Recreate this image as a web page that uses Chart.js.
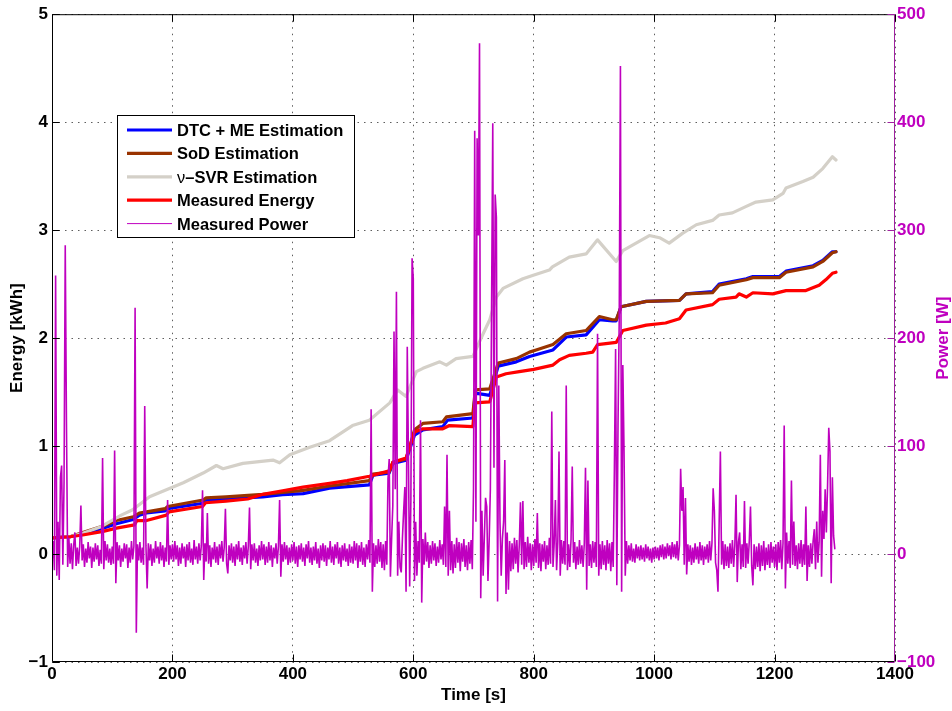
<!DOCTYPE html>
<html lang="en">
<head>
<meta charset="UTF-8">
<title>Energy Estimation vs. Measurement</title>
<script src="https://cdn.jsdelivr.net/npm/chart.js"></script>
<style>
    body {
        margin: 0;
        background-color: #ffffff;
    }
    #energyChart {
        display: block;
    }
</style>
</head>
<body>
<canvas id="energyChart" width="952" height="711"></canvas>
<script>
// energy curves as [time s, energy kWh]
const dtcMeEnergy = [
    [0,0.15],[30,0.16],[51,0.19],[85,0.24],[107,0.28],[135,0.32],[145,0.36],[157,0.38],[188,0.40],[192,0.42],
    [251,0.47],[256,0.50],[289,0.51],[350,0.53],[383,0.55],[417,0.56],[461,0.61],[527,0.64],[533,0.73],[560,0.75],
    [566,0.84],[588,0.87],[594,0.97],[602,1.10],[616,1.15],[649,1.18],[657,1.24],[699,1.26],[703,1.49],[727,1.47],
    [741,1.74],[771,1.78],[793,1.83],[832,1.89],[854,2.01],[887,2.03],[909,2.17],[931,2.16],[937,2.16],[945,2.29],
    [987,2.34],[1042,2.35],[1053,2.41],[1097,2.43],[1108,2.50],[1153,2.55],[1164,2.57],[1208,2.57],[1219,2.62],
    [1264,2.67],[1280,2.72],[1296,2.80],[1302,2.80]
];
const sodEnergy = [
    [0,0.15],[30,0.16],[51,0.20],[85,0.26],[107,0.31],[135,0.345],[145,0.38],[157,0.39],[188,0.42],[192,0.44],
    [251,0.50],[256,0.52],[289,0.53],[350,0.553],[383,0.57],[417,0.59],[461,0.63],[527,0.68],[533,0.74],[560,0.76],
    [566,0.85],[588,0.88],[594,0.99],[602,1.15],[616,1.21],[649,1.225],[655,1.27],[699,1.30],[703,1.52],[727,1.53],
    [741,1.77],[771,1.81],[793,1.87],[804,1.89],[832,1.94],[854,2.04],[887,2.07],[909,2.20],[931,2.17],[937,2.17],
    [945,2.29],[987,2.34],[1042,2.35],[1053,2.41],[1097,2.42],[1108,2.49],[1153,2.54],[1164,2.56],[1208,2.56],
    [1219,2.61],[1264,2.66],[1280,2.71],[1296,2.79],[1302,2.80]
];
const svrEnergy = [
    [0,0.15],[30,0.16],[50,0.19],[80,0.25],[115,0.36],[134,0.41],[162,0.53],[218,0.66],[251,0.75],[273,0.82],
    [284,0.79],[317,0.84],[367,0.87],[378,0.845],[395,0.92],[428,0.99],[461,1.05],[499,1.19],[527,1.24],[561,1.40],
    [574,1.52],[588,1.46],[605,1.69],[616,1.72],[644,1.78],[655,1.75],[671,1.81],[699,1.83],[716,2.04],[727,2.17],
    [738,2.38],[749,2.46],[782,2.55],[798,2.58],[826,2.63],[831,2.66],[859,2.75],[887,2.78],[906,2.91],[937,2.71],
    [948,2.81],[992,2.95],[1009,2.93],[1025,2.88],[1047,2.97],[1070,3.05],[1097,3.09],[1108,3.14],[1130,3.16],
    [1153,3.22],[1169,3.26],[1197,3.28],[1214,3.34],[1219,3.39],[1247,3.45],[1264,3.49],[1280,3.57],[1296,3.68],
    [1302,3.65]
];
const measuredEnergy = [
    [0,0.15],[30,0.16],[51,0.176],[85,0.21],[107,0.24],[137,0.27],[141,0.31],[157,0.31],[190,0.36],[194,0.39],
    [250,0.44],[255,0.475],[289,0.49],[325,0.51],[350,0.553],[383,0.586],[417,0.62],[461,0.655],[490,0.68],[527,0.72],
    [560,0.77],[566,0.85],[588,0.89],[594,0.99],[602,1.13],[616,1.16],[649,1.16],[660,1.19],[699,1.18],[702,1.40],
    [727,1.41],[738,1.64],[754,1.67],[776,1.69],[800,1.71],[832,1.75],[843,1.80],[859,1.84],[887,1.86],[898,1.87],
    [906,1.94],[937,1.96],[948,2.07],[987,2.12],[1019,2.14],[1042,2.18],[1053,2.26],[1097,2.31],[1108,2.36],
    [1136,2.38],[1141,2.41],[1153,2.38],[1164,2.42],[1197,2.41],[1219,2.44],[1252,2.44],[1274,2.49],[1285,2.54],
    [1296,2.60],[1302,2.61]
];

// measured power [W], one sample every 2 s starting at t = 0
const powerStep = 2;
const measuredPower = [
    -8,12,-15,258,-20,30,-24,71,82,-10,66,286,122,-12,15,-9,10,-14,8,20,-11,6,-9,7,45,
    -6,9,-12,5,-8,11,-4,7,-13,6,-7,10,-5,8,-11,4,-9,89,-14,12,-6,9,-8,5,-10,
    7,-9,96,-27,11,-6,8,-12,5,-7,10,-4,9,-13,6,-8,12,-5,7,228,-73,9,-6,11,-8,
    6,-10,137,8,-32,10,-6,9,-11,5,-8,12,-4,7,-9,11,-6,8,-12,6,-7,50,-10,8,-5,
    9,-7,12,-5,8,-11,6,-9,10,-4,7,-12,9,-6,11,-8,5,-10,13,-5,7,-9,10,-6,8,
    59,-24,10,-7,38,-9,8,-12,6,-5,11,-8,7,-10,9,-4,12,-7,6,42,-9,-18,8,-6,10,
    -8,7,-11,9,-5,12,-7,6,-10,8,-4,11,-9,7,43,-14,9,-6,10,-8,5,-11,8,-6,12,
    -5,9,-10,7,-8,11,-6,8,-12,6,-4,10,-9,7,50,-21,9,-7,11,-5,8,-10,6,-8,9,
    -6,11,-9,7,-12,8,-5,10,-7,6,-11,9,-4,12,-8,6,-10,7,-6,11,-9,5,-13,8,-6,
    10,-7,8,-11,6,-5,12,-8,7,-10,9,-4,11,-9,6,-12,8,-6,10,-7,5,-11,9,-8,7,
    -9,12,-6,10,-13,8,-7,11,-10,6,-12,9,-5,13,-8,134,-35,10,-12,8,-9,14,-7,11,-13,
    9,-15,12,-10,70,88,-21,14,45,206,60,243,-20,30,-12,-17,15,40,62,-35,192,87,-30,50,274,
    255,-25,30,-20,12,-8,124,-45,14,-10,20,-7,11,-13,8,-9,12,-6,10,-11,7,-8,13,-5,9,
    -10,44,-12,92,-20,40,-15,12,-18,9,-13,15,-8,11,-16,10,-7,14,-12,8,-15,11,-9,13,-14,
    60,392,30,385,295,473,-41,40,-20,15,52,44,-25,12,60,229,399,80,333,312,-44,156,30,-20,14,
    30,87,-37,20,-33,12,-16,10,-14,15,-9,13,-17,8,48,-10,49,-14,11,-12,16,-8,10,-15,9,
    -11,14,-8,38,-13,10,-16,9,-7,12,-14,8,-10,15,-9,132,-12,10,50,-15,11,95,-20,13,-9,
    12,-10,156,-15,9,-12,14,81,-8,11,-14,7,-10,13,-9,8,-12,10,80,-33,68,-11,9,-13,12,
    -8,11,-12,204,-20,9,-14,12,-10,8,-15,13,-9,10,-16,11,-12,80,190,-29,120,217,452,-35,175,
    95,-20,12,-9,8,-6,10,-7,5,-8,9,-4,7,-6,8,-5,6,-7,9,-4,7,-6,5,-8,6,
    -5,7,-4,6,-6,8,-3,9,-5,7,-4,10,-2,8,-5,11,-3,9,-4,12,-6,8,79,40,62,
    -10,52,-19,9,-7,8,-10,6,-8,10,-5,7,-9,11,-6,8,-10,7,-5,9,-8,12,-6,10,61,
    40,-8,-15,-35,30,95,-10,12,-14,9,-11,7,-13,10,-9,13,-12,8,55,-26,11,20,-14,9,-12,
    49,-13,10,-9,12,44,-11,-29,9,-14,7,-12,10,-16,8,-11,12,-15,6,-10,9,-13,11,-8,7,
    -12,9,-15,11,-8,13,-14,10,119,-32,20,-9,12,-13,68,-10,30,-11,8,-14,10,-9,13,-12,9,
    -10,44,-25,8,-12,10,-9,12,23,-14,30,-8,11,92,-21,40,14,60,20,63,117,95,-27,71,17,5
];

const timeTicks = [0, 200, 400, 600, 800, 1000, 1200, 1400];
const energyTicks = [-1, 0, 1, 2, 3, 4, 5];
const powerTicks = [-100, 0, 100, 200, 300, 400, 500];

const fontFamily = "'Liberation Sans', Arial, Helvetica, sans-serif";
const powerColor = '#bf00bf';
const gridColor = 'rgba(40, 40, 40, 0.75)';

Chart.defaults.font.family = fontFamily;

function toPoints(pairs) {
    return pairs.map(p => ({ x: p[0], y: p[1] }));
}

function fixedTicks(list) {
    return function (scale) {
        scale.ticks = list.map(v => ({ value: v }));
    };
}

function withMinus(value) {
    return value < 0 ? '\u2212' + Math.abs(value) : String(value);
}

// box, inward tick marks, legend and right axis title (Matlab look)
const figureDecor = {
    id: 'figureDecor',
    afterDraw(chart) {
        const { ctx, chartArea: a, scales } = chart;
        const L = a.left + 0.5, R = a.right - 0.5, T = a.top + 0.5, B = a.bottom - 0.5;
        const tickLen = 7;

        ctx.save();
        ctx.lineWidth = 1;
        ctx.strokeStyle = '#000000';
        ctx.beginPath();
        ctx.moveTo(R, T); ctx.lineTo(L, T); ctx.lineTo(L, B); ctx.lineTo(R, B);
        scales.x.ticks.forEach(t => {
            const px = Math.round(scales.x.getPixelForValue(t.value)) + 0.5;
            ctx.moveTo(px, B); ctx.lineTo(px, B - tickLen);
            ctx.moveTo(px, T); ctx.lineTo(px, T + tickLen);
        });
        scales.y.ticks.forEach(t => {
            const py = Math.round(scales.y.getPixelForValue(t.value)) + 0.5;
            ctx.moveTo(L, py); ctx.lineTo(L + tickLen, py);
        });
        ctx.stroke();

        ctx.strokeStyle = '#a020a0';
        ctx.beginPath();
        ctx.moveTo(R, T - 0.5); ctx.lineTo(R, B + 0.5);
        scales.yP.ticks.forEach(t => {
            const py = Math.round(scales.yP.getPixelForValue(t.value)) + 0.5;
            ctx.moveTo(R, py); ctx.lineTo(R - tickLen, py);
        });
        ctx.stroke();

        // right axis title, read bottom to top
        ctx.translate(943, (a.top + a.bottom) / 2);
        ctx.rotate(-Math.PI / 2);
        ctx.fillStyle = powerColor;
        ctx.font = 'bold 17px ' + fontFamily;
        ctx.textAlign = 'center';
        ctx.textBaseline = 'middle';
        ctx.fillText('Power [W]', 0, 0);
        ctx.restore();

        // legend
        ctx.save();
        const box = { x: 117, y: 115, w: 237, h: 122 };
        ctx.fillStyle = '#ffffff';
        ctx.fillRect(box.x, box.y, box.w, box.h);
        ctx.strokeStyle = '#000000';
        ctx.lineWidth = 1;
        ctx.strokeRect(box.x + 0.5, box.y + 0.5, box.w, box.h);
        ctx.textBaseline = 'middle';
        ctx.fillStyle = '#000000';
        chart.data.datasets.forEach((ds, i) => {
            const y = 130 + i * 23.4;
            ctx.strokeStyle = ds.borderColor;
            ctx.lineWidth = ds.yAxisID === 'yP' ? 1 : ds.borderWidth;
            ctx.beginPath();
            ctx.moveTo(127, y);
            ctx.lineTo(172, y);
            ctx.stroke();
            let x = 177;
            let text = ds.label;
            if (text.startsWith('\u03bd')) {
                ctx.font = 'normal 16.5px ' + fontFamily;
                ctx.fillText('\u03bd', x, y + 1.5);
                x += ctx.measureText('\u03bd').width;
                text = text.slice(1);
            }
            ctx.font = 'bold 16.5px ' + fontFamily;
            ctx.fillText(text, x, y + 1.5);
        });
        ctx.restore();
    }
};

const ctx = document.getElementById('energyChart').getContext('2d');

new Chart(ctx, {
    type: 'line',
    data: {
        datasets: [
            { label: 'DTC + ME Estimation', data: toPoints(dtcMeEnergy), borderColor: '#0000ff', borderWidth: 3.2, yAxisID: 'y', order: 4 },
            { label: 'SoD Estimation', data: toPoints(sodEnergy), borderColor: '#993300', borderWidth: 3.2, yAxisID: 'y', order: 3 },
            { label: '\u03bd\u2013SVR Estimation', data: toPoints(svrEnergy), borderColor: '#d4d0c8', borderWidth: 3.2, yAxisID: 'y', order: 2 },
            { label: 'Measured Energy', data: toPoints(measuredEnergy), borderColor: '#ff0000', borderWidth: 3.2, yAxisID: 'y', order: 1 },
            {
                label: 'Measured Power',
                data: measuredPower.map((w, i) => ({ x: i * powerStep, y: w })),
                borderColor: powerColor, borderWidth: 1.6, borderJoinStyle: 'bevel', yAxisID: 'yP', order: 0
            }
        ]
    },
    options: {
        responsive: false,
        animation: false,
        events: [],
        layout: { padding: { top: 14, left: 0, right: 0, bottom: 0 } },
        elements: {
            point: { radius: 0 },
            line: { tension: 0, borderJoinStyle: 'round', borderCapStyle: 'round', fill: false }
        },
        plugins: {
            legend: { display: false },
            tooltip: { enabled: false }
        },
        scales: {
            x: {
                type: 'linear',
                min: 0,
                max: 1400,
                afterBuildTicks: fixedTicks(timeTicks),
                afterFit: s => { s.height = 49; },
                ticks: { color: '#000000', font: { size: 17, weight: 'bold' }, padding: 2, maxRotation: 0, autoSkip: false, callback: withMinus },
                grid: { color: gridColor, lineWidth: 1, drawTicks: false },
                border: { display: false, dash: [1.5, 5] },
                title: { display: true, text: 'Time [s]', color: '#000000', font: { size: 17, weight: 'bold' }, padding: { top: 0, bottom: 5 } }
            },
            y: {
                position: 'left',
                min: -1,
                max: 5,
                afterBuildTicks: fixedTicks(energyTicks),
                afterFit: s => { s.width = 52; },
                ticks: { color: '#000000', font: { size: 17, weight: 'bold' }, padding: 4, callback: withMinus },
                grid: { color: gridColor, lineWidth: 1, drawTicks: false },
                border: { display: false, dash: [1.5, 5] },
                title: { display: true, text: 'Energy [kWh]', color: '#000000', font: { size: 17, weight: 'bold' }, padding: { top: 7, bottom: 0 } }
            },
            yP: {
                position: 'right',
                min: -100,
                max: 500,
                afterBuildTicks: fixedTicks(powerTicks),
                afterFit: s => { s.width = 57; },
                ticks: { color: powerColor, font: { size: 17, weight: 'bold' }, padding: 2, callback: withMinus },
                grid: { drawOnChartArea: false, drawTicks: false },
                border: { display: false }
            }
        }
    },
    plugins: [figureDecor]
});
</script>
</body>
</html>
